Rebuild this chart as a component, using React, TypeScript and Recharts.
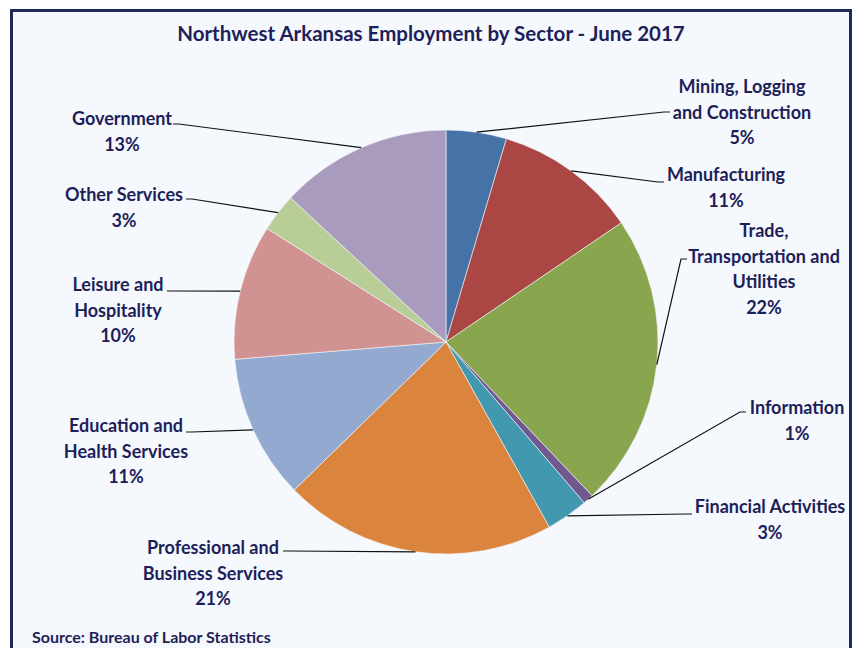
import { PieChart, Pie, Cell } from 'recharts';

const sectors = [
  'Mining, Logging\nand Construction',
  'Manufacturing',
  'Trade,\nTransportation and\nUtilities',
  'Information',
  'Financial Activities',
  'Professional and\nBusiness Services',
  'Education and\nHealth Services',
  'Leisure and\nHospitality',
  'Other Services',
  'Government',
];
const shares = [4.6, 10.9, 22.4, 0.8, 3.2, 20.8, 11.0, 10.3, 2.9, 13.1];
const colors = [
  '#4572A7', '#AA4643', '#89A54E', '#71588F', '#4198AF',
  '#DB843D', '#93A9CF', '#D19392', '#B9CD96', '#A99BBD',
];

// where each label sits and where its leader line stops
const labelLayout = [
  { tx: 742, ty: 86, ex: 670, ey: 112, dir: 1 },
  { tx: 726, ty: 174, ex: 664, ey: 182, dir: 1 },
  { tx: 764, ty: 230, ex: 687, ey: 259, dir: 1 },
  { tx: 797, ty: 407, ex: 746, ey: 412, dir: 1 },
  { tx: 770, ty: 506, ex: 692, ey: 514, dir: 1 },
  { tx: 213, ty: 547, ex: 283, ey: 551, dir: -1 },
  { tx: 126, ty: 425, ex: 186, ey: 432, dir: -1 },
  { tx: 118, ty: 284, ex: 167, ey: 291, dir: -1 },
  { tx: 124, ty: 194, ex: 186, ey: 199, dir: -1 },
  { tx: 122, ty: 118, ex: 173, ey: 124, dir: -1 },
];

const data = sectors.map((name, i) => ({ name, value: shares[i] }));

const TEXT = '#1D1F59';
const FONT = 'Lato, "Open Sans", sans-serif';
const RAD = Math.PI / 180;

const renderLabel = (props: any) => {
  const { cx, cy, midAngle, outerRadius, index, value, name } = props;
  const lay = labelLayout[index];
  const sx = cx + outerRadius * Math.cos(-midAngle * RAD);
  const sy = cy + outerRadius * Math.sin(-midAngle * RAD);
  const bx = lay.ex - lay.dir * 6;
  const lines = [...String(name).split('\n'), `${Math.round(value)}%`];
  return (
    <g key={`lbl-${index}`}>
      <polyline
        points={`${sx},${sy} ${bx},${lay.ey} ${lay.ex},${lay.ey}`}
        fill="none"
        stroke="#111"
        strokeWidth={1.2}
      />
      {lines.map((t, k) => (
        <text
          key={k}
          x={lay.tx}
          y={lay.ty + k * 25.5}
          textAnchor="middle"
          dominantBaseline="central"
          fill={TEXT}
          fontFamily={FONT}
          fontWeight={700}
          fontSize={18}
        >
          {t}
        </text>
      ))}
    </g>
  );
};

export default function App() {
  return (
    <div
      style={{
        position: 'absolute',
        left: 0,
        top: 0,
        width: 856,
        height: 648,
        overflow: 'hidden',
        background: '#fff',
      }}
    >
      <div
        style={{
          position: 'absolute',
          left: 10,
          top: 9,
          width: 836,
          height: 680,
          border: '3px solid #1F2A5C',
          background: '#F5F8FD',
        }}
      />
      <div
        style={{
          position: 'absolute',
          left: 0,
          top: 21,
          width: 862,
          textAlign: 'center',
          fontFamily: FONT,
          fontWeight: 700,
          fontSize: 20.5,
          color: TEXT,
        }}
      >
        Northwest Arkansas Employment by Sector - June 2017
      </div>
      <div
        style={{
          position: 'absolute',
          left: 32,
          top: 627,
          fontFamily: FONT,
          fontWeight: 700,
          fontSize: 16,
          color: TEXT,
        }}
      >
        Source: Bureau of Labor Statistics
      </div>
      <div style={{ position: 'absolute', left: 0, top: 0 }}>
        <PieChart width={856} height={648} margin={{ top: 0, right: 0, bottom: 0, left: 0 }}>
          <Pie
            data={data}
            dataKey="value"
            nameKey="name"
            cx={446}
            cy={342}
            outerRadius={212}
            startAngle={90}
            endAngle={-270}
            stroke="#F5F8FD"
            strokeWidth={0.6}
            label={renderLabel}
            labelLine={false}
            isAnimationActive={false}
          >
            {data.map((d, i) => (
              <Cell key={d.name} fill={colors[i]} />
            ))}
          </Pie>
        </PieChart>
      </div>
    </div>
  );
}
